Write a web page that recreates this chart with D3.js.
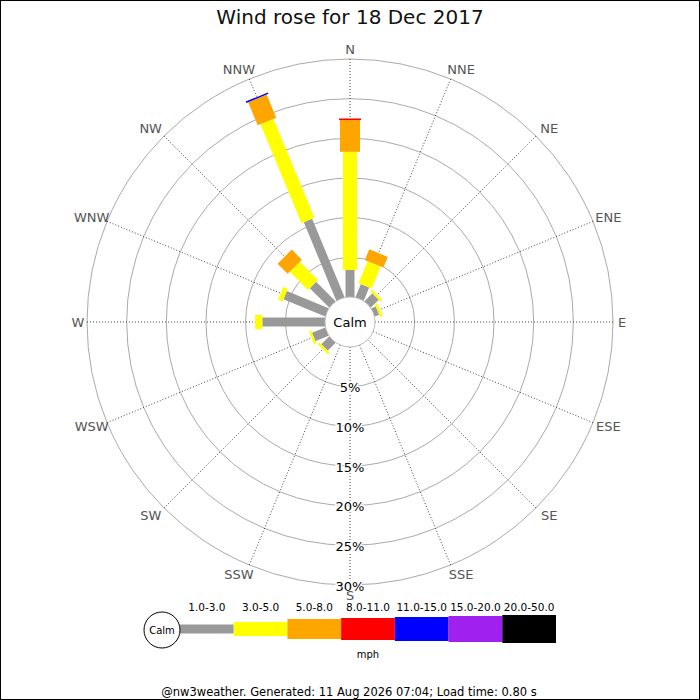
<!DOCTYPE html>
<html>
<head>
<meta charset="utf-8">
<script src="https://cdn.jsdelivr.net/npm/d3@7"></script>
<style>
  body { margin: 0; background: #fff; }
  svg { display: block; font-family: "DejaVu Sans", sans-serif; }
</style>
</head>
<body>
<div id="chart"></div>
<script>
// Compass points, clockwise from N
var directions = ['N', 'NNE', 'NE', 'ENE', 'E', 'ESE', 'SE', 'SSE',
                  'S', 'SSW', 'SW', 'WSW', 'W', 'WNW', 'NW', 'NNW'];

// Speed classes (mph)
var speedBins = ['1.0-3.0', '3.0-5.0', '5.0-8.0', '8.0-11.0', '11.0-15.0', '15.0-20.0', '20.0-50.0'];
var binColors = ['#999999', '#ffff00', '#ffa500', '#ff0000', '#0000ff', '#a020f0', '#000000'];

// Frequency (%) per direction for each speed class
var freq1to3   = [3.4, 1.8, 1.4, 0.6, 0, 0, 0, 0, 0, 0, 1.4, 1.8, 7.9, 5.7, 3.45, 10.7];
var freq3to5   = [14.9, 3.0, 0.3, 0.35, 0, 0, 0, 0, 0, 0, 0.3, 0.3, 0.9, 0.6, 3.25, 13.5];
var freq5to8   = [4.0, 1.45, 0, 0, 0, 0, 0, 0, 0, 0, 0, 0, 0, 0, 1.8, 3.15];
var freq8to11  = [0.2, 0, 0, 0, 0, 0, 0, 0, 0, 0, 0, 0, 0, 0, 0, 0];
var freq11to15 = [0, 0, 0, 0, 0, 0, 0, 0, 0, 0, 0, 0, 0, 0, 0, 0.2];
var freq15to20 = [0, 0, 0, 0, 0, 0, 0, 0, 0, 0, 0, 0, 0, 0, 0, 0];
var freq20to50 = [0, 0, 0, 0, 0, 0, 0, 0, 0, 0, 0, 0, 0, 0, 0, 0];
var freqByBin = [freq1to3, freq3to5, freq5to8, freq8to11, freq11to15, freq15to20, freq20to50];

// Ring ticks (%)
var ringTicks = [5, 10, 15, 20, 25, 30];

var width = 700, height = 700;
var cx = 350, cy = 322;
var calmRadius = 25;
var barWidths = [9, 14, 20, 22, 24, 26, 28];

var svg = d3.select('#chart')
  .append('svg')
    .attr('width', width)
    .attr('height', height);

svg.append('rect')
  .attr('x', 0.5).attr('y', 0.5)
  .attr('width', width - 1).attr('height', height - 1)
  .attr('fill', '#fff')
  .attr('stroke', '#000');

// Title
svg.append('text')
  .attr('x', cx)
  .attr('y', 24)
  .attr('text-anchor', 'middle')
  .style('font-size', '20px')
  .attr('fill', '#111')
  .text('Wind rose for 18 Dec 2017');

// Radial scale
var r = d3.scaleLinear()
  .domain([0, 30])
  .range([calmRadius, 263]);

// Angle scale (degrees clockwise from N)
var angle = d3.scalePoint()
  .domain(directions.concat(['_end']))
  .range([0, 360]);

function sinA(d) { return Math.sin(angle(d) * Math.PI / 180); }
function cosA(d) { return Math.cos(angle(d) * Math.PI / 180); }

var g = svg.append('g')
  .attr('transform', 'translate(' + cx + ',' + cy + ')');

// Rings
g.selectAll('circle.ring')
  .data(ringTicks)
  .enter()
  .append('circle')
    .attr('class', 'ring')
    .attr('r', function(d) { return r(d); })
    .attr('fill', 'none')
    .attr('stroke', '#aaaaaa')
    .attr('stroke-width', 1);

// Spokes
g.selectAll('line.spoke')
  .data(directions)
  .enter()
  .append('line')
    .attr('class', 'spoke')
    .attr('x1', function(d) { return calmRadius * sinA(d); })
    .attr('y1', function(d) { return -calmRadius * cosA(d); })
    .attr('x2', function(d) { return r(30) * sinA(d); })
    .attr('y2', function(d) { return -r(30) * cosA(d); })
    .attr('stroke', '#444')
    .attr('stroke-width', 1)
    .attr('stroke-dasharray', '1,2');

// Build stacked segments
var segments = [];
directions.forEach(function(dir, i) {
  var acc = 0;
  speedBins.forEach(function(bin, j) {
    var v = freqByBin[j][i];
    if (v > 0) {
      segments.push({dir: dir, bin: j, start: acc, end: acc + v});
    }
    acc += v;
  });
});

// Bars
g.selectAll('rect.bar')
  .data(segments)
  .enter()
  .append('rect')
    .attr('class', 'bar')
    .attr('transform', function(d) { return 'rotate(' + angle(d.dir) + ')'; })
    .attr('x', function(d) { return -barWidths[d.bin] / 2; })
    .attr('width', function(d) { return barWidths[d.bin]; })
    .attr('y', function(d) { return -r(d.end); })
    .attr('height', function(d) { return r(d.end) - r(d.start); })
    .attr('fill', function(d) { return binColors[d.bin]; });

// Calm circle
g.append('circle')
  .attr('r', calmRadius)
  .attr('fill', '#fff')
  .attr('stroke', '#bbbbbb')
  .attr('stroke-width', 1);
g.append('text')
  .attr('text-anchor', 'middle')
  .attr('dominant-baseline', 'central')
  .style('font-size', '13px')
  .attr('fill', '#000')
  .text('Calm');

// Ring labels
g.selectAll('text.ringlabel')
  .data(ringTicks)
  .enter()
  .append('text')
    .attr('class', 'ringlabel')
    .attr('x', 0)
    .attr('y', function(d) { return r(d) + 1; })
    .attr('text-anchor', 'middle')
    .attr('dominant-baseline', 'central')
    .style('font-size', '13px')
    .attr('fill', '#000')
    .attr('stroke', '#fff')
    .attr('stroke-width', 3)
    .attr('paint-order', 'stroke')
    .text(function(d) { return d + '%'; });

// Direction labels (pushed a little further out sideways off the axes)
g.selectAll('text.dirlabel')
  .data(directions)
  .enter()
  .append('text')
    .attr('class', 'dirlabel')
    .attr('x', function(d) {
      var s = sinA(d);
      var shift = (Math.abs(s) > 0.01 && Math.abs(s) < 0.99) ? 7 * Math.sign(s) : 0;
      return 272 * s + shift;
    })
    .attr('y', function(d) { return -273 * cosA(d); })
    .attr('text-anchor', 'middle')
    .attr('dominant-baseline', 'central')
    .style('font-size', '13px')
    .attr('fill', '#555')
    .text(function(d) { return d; });

// Legend
var legendX = d3.scaleBand()
  .domain(speedBins)
  .range([180, 556]);
var legendY = 629;

var legend = svg.append('g');
legend.selectAll('rect')
  .data(speedBins)
  .enter()
  .append('rect')
    .attr('x', function(d) { return legendX(d); })
    .attr('width', legendX.bandwidth())
    .attr('y', function(d, i) { return legendY - barWidths[i] / 2; })
    .attr('height', function(d, i) { return barWidths[i]; })
    .attr('fill', function(d, i) { return binColors[i]; });

legend.selectAll('text.binlabel')
  .data(speedBins)
  .enter()
  .append('text')
    .attr('class', 'binlabel')
    .attr('x', function(d) { return legendX(d) + legendX.bandwidth() / 2; })
    .attr('y', 607)
    .attr('text-anchor', 'middle')
    .attr('dominant-baseline', 'central')
    .style('font-size', '10.5px')
    .attr('fill', '#000')
    .text(function(d) { return d; });

legend.append('circle')
  .attr('cx', 162)
  .attr('cy', 630)
  .attr('r', 18)
  .attr('fill', '#fff')
  .attr('stroke', '#000');
legend.append('text')
  .attr('x', 162)
  .attr('y', 630)
  .attr('text-anchor', 'middle')
  .attr('dominant-baseline', 'central')
  .style('font-size', '10px')
  .text('Calm');

legend.append('text')
  .attr('x', 368)
  .attr('y', 654)
  .attr('text-anchor', 'middle')
  .attr('dominant-baseline', 'central')
  .style('font-size', '10px')
  .text('mph');

// Footer
svg.append('text')
  .attr('x', 349)
  .attr('y', 692)
  .attr('text-anchor', 'middle')
  .attr('dominant-baseline', 'central')
  .style('font-size', '11.5px')
  .attr('fill', '#000')
  .text('@nw3weather. Generated: 11 Aug 2026 07:04; Load time: 0.80 s');
</script>
</body>
</html>
